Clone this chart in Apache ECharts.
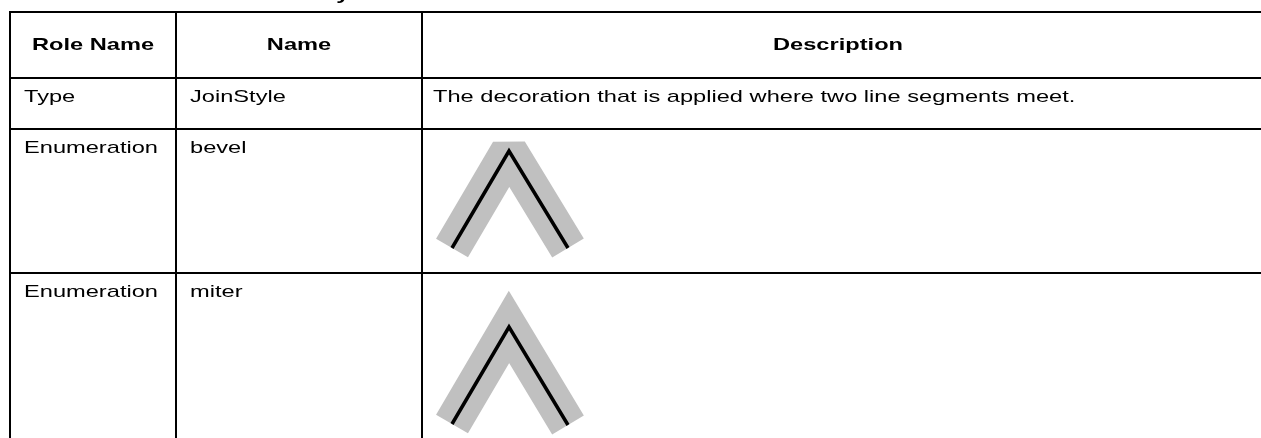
<!DOCTYPE html>
<html>
<head>
<meta charset="utf-8">
<script src="https://cdn.jsdelivr.net/npm/echarts@6/dist/echarts.min.js"></script>
<style>
html,body{margin:0;padding:0;background:#fff;}
#c{width:1261px;height:438px;}
</style>
</head>
<body>
<div id="c"></div>
<script>
// ---- data ----
const titleText = 'JoinStyle';
const headers = ['Role Name', 'Name', 'Description'];
const roleNames = ['Type', 'Enumeration', 'Enumeration'];
const names = ['JoinStyle', 'bevel', 'miter'];
const descriptions = ['The decoration that is applied where two line segments meet.', '', ''];
const joinStyles = ['bevel', 'miter'];
const chevronX = [452, 509, 568];
const bevelY = [248, 151, 248];
const miterY = [424, 327, 425];

// ---- layout ----
const W = 1261, H = 438;
const colX = [10, 176, 422];
const rowY = [12, 78, 129, 273];
const FS = 17, SX = 1.39;
const FONT = 'Liberation Sans, Arial, sans-serif';

const graphic = [];
function hline(y, x0, x1) {
  graphic.push({type: 'line', silent: true, shape: {x1: x0, y1: y, x2: x1, y2: y}, style: {stroke: '#000', lineWidth: 2}});
}
function vline(x, y0, y1) {
  graphic.push({type: 'line', silent: true, shape: {x1: x, y1: y0, x2: x, y2: y1}, style: {stroke: '#000', lineWidth: 2}});
}
function txt(s, x, y, align, bold, va) {
  graphic.push({
    type: 'text', silent: true, x: x, y: y, scaleX: SX,
    style: {text: s, fill: '#000', font: (bold ? 'bold ' : '') + FS + 'px ' + FONT, align: align, verticalAlign: va || 'middle'}
  });
}
rowY.forEach(y => hline(y, colX[0] - 1, W));
colX.forEach(x => vline(x, rowY[0] - 1, H));

// title (mostly cut off above the page)
txt(titleText, 264, 4, 'left', true, 'bottom');

// header
const headerCenters = [
  (colX[0] + colX[1]) / 2,
  (colX[1] + colX[2]) / 2,
  838
];
headers.forEach((h, i) => txt(h, headerCenters[i], 45, 'center', true));

// body rows
const textLeft = [24, 190, 433];
for (let r = 0; r < roleNames.length; r++) {
  const cy = rowY[r + 1] + 19;
  txt(roleNames[r], textLeft[0], cy, 'left', false);
  txt(names[r], textLeft[1], cy, 'left', false);
  if (descriptions[r]) txt(descriptions[r], textLeft[2], cy, 'left', false);
}

function pts(ys) { return chevronX.map((x, i) => [x, ys[i]]); }
const chevrons = [bevelY, miterY];
const series = [];
chevrons.forEach((ys, i) => {
  series.push({
    type: 'line', data: pts(ys), symbol: 'none', silent: true, z: 2,
    lineStyle: {color: '#c0c0c0', width: 37, cap: 'butt', join: joinStyles[i], miterLimit: 10}
  });
  series.push({
    type: 'line', data: pts(ys), symbol: 'none', silent: true, z: 3,
    lineStyle: {color: '#000', width: 3.5, cap: 'butt', join: 'miter'}
  });
});

const chart = echarts.init(document.getElementById('c'), null, {renderer: 'canvas'});
chart.setOption({
  animation: false,
  backgroundColor: '#fff',
  grid: {left: 0, right: 0, top: 0, bottom: 0},
  xAxis: {type: 'value', min: 0, max: W, show: false},
  yAxis: {type: 'value', min: 0, max: H, inverse: true, show: false},
  series: series,
  graphic: graphic
});
</script>
</body>
</html>
